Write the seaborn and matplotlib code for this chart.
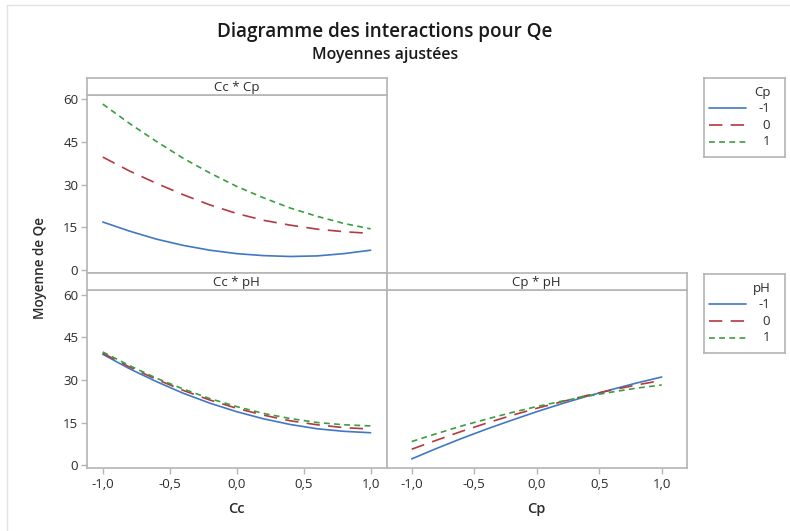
import matplotlib
matplotlib.use("Agg")
import matplotlib.pyplot as plt
from matplotlib.lines import Line2D
import numpy as np
import pandas as pd
import seaborn as sns

# ---- data: adjusted means of Qe at coded factor settings ----
levels = ["-1", "0", "1"]
x_grid = [-1.0, -0.8, -0.6, -0.4, -0.2, 0.0, 0.2, 0.4, 0.6, 0.8, 1.0]

# Cc * Cp (x = Cc, one curve per Cp level)
cc_cp_m1 = [16.9, 13.7, 10.9, 8.7, 7.0, 5.8, 5.1, 4.8, 5.0, 5.8, 7.0]
cc_cp_0 = [39.7, 34.8, 30.5, 26.5, 22.9, 19.9, 17.5, 15.8, 14.4, 13.5, 12.9]
cc_cp_p1 = [58.3, 51.5, 45.2, 39.3, 34.1, 29.4, 25.4, 21.8, 18.9, 16.4, 14.5]

# Cc * pH (x = Cc, one curve per pH level)
cc_ph_m1 = [39.0, 33.9, 29.4, 25.3, 21.8, 18.8, 16.3, 14.3, 12.8, 11.9, 11.4]
cc_ph_0 = [39.4, 34.5, 30.2, 26.3, 22.9, 20.0, 17.6, 15.6, 14.2, 13.2, 12.7]
cc_ph_p1 = [39.8, 35.0, 30.6, 26.8, 23.4, 20.6, 18.2, 16.4, 15.0, 14.2, 13.8]

# Cp * pH (x = Cp, one curve per pH level)
cp_ph_m1 = [2.2, 5.9, 9.4, 12.7, 15.8, 18.8, 21.6, 24.2, 26.6, 28.9, 31.0]
cp_ph_0 = [5.6, 8.8, 11.9, 14.8, 17.5, 20.0, 22.3, 24.5, 26.4, 28.2, 29.8]
cp_ph_p1 = [8.3, 11.1, 13.8, 16.2, 18.5, 20.6, 22.5, 24.2, 25.7, 27.1, 28.2]

y_ticks = [0, 15, 30, 45, 60]
x_ticks = [-1.0, -0.5, 0.0, 0.5, 1.0]
x_tick_labels = ["-1,0", "-0,5", "0,0", "0,5", "1,0"]

title = "Diagramme des interactions pour Qe"
subtitle = "Moyennes ajustées"
y_label = "Moyenne de Qe"


def long_frame(curves):
    return pd.DataFrame({
        "x": x_grid * len(curves),
        "Qe": [v for c in curves for v in c],
        "level": [lv for lv in levels for _ in x_grid],
    })


df_cc_cp = long_frame([cc_cp_m1, cc_cp_0, cc_cp_p1])
df_cc_ph = long_frame([cc_ph_m1, cc_ph_0, cc_ph_p1])
df_cp_ph = long_frame([cp_ph_m1, cp_ph_0, cp_ph_p1])

# ---- styling ----
sns.set_theme(style="white")
plt.rcParams["font.family"] = ["Open Sans", "DejaVu Sans"]

palette = {"-1": "#3F78C4", "0": "#B23A40", "1": "#3A9E3F"}
dashes = {"-1": "", "0": (8, 5), "1": (3.5, 2.6)}
LW = 1.2
FRAME = "#B4B4B4"
TXT = "#2B2B2B"

W, H = 790, 531
fig = plt.figure(figsize=(W / 100, H / 100), dpi=100)
fig.patch.set_facecolor("white")


def px_axes(x0, y0, x1, y1):
    return fig.add_axes([x0 / W, 1 - y1 / H, (x1 - x0) / W, (y1 - y0) / H])


def style_frame(ax):
    for s in ax.spines.values():
        s.set_color(FRAME)
        s.set_linewidth(1.2)
    ax.set_facecolor("white")


def strip(x0, y0, x1, y1, text):
    sax = px_axes(x0, y0, x1, y1)
    style_frame(sax)
    sax.set_xticks([])
    sax.set_yticks([])
    sax.text(0.5, 0.45, text, ha="center", va="center", fontsize=9.5,
             color=TXT, transform=sax.transAxes)
    return sax


def panel(box, data, xlim, show_x, show_y):
    ax = px_axes(*box)
    style_frame(ax)
    sns.lineplot(data=data, x="x", y="Qe", hue="level", style="level",
                 palette=palette, dashes=dashes, hue_order=levels,
                 style_order=levels, linewidth=LW, estimator=None,
                 legend=False, ax=ax)
    ax.set_xlim(*xlim)
    ax.set_ylim(-1.0, 61.6)
    ax.set_xlabel("")
    ax.set_ylabel("")
    if show_y:
        ax.set_yticks(y_ticks)
        ax.set_yticklabels([str(t) for t in y_ticks])
        ax.tick_params(axis="y", left=True, length=4, width=1, color=FRAME,
                       labelsize=9.5, labelcolor=TXT, pad=2)
    else:
        ax.set_yticks([])
    if show_x:
        ax.set_xticks(x_ticks)
        ax.set_xticklabels(x_tick_labels)
        ax.tick_params(axis="x", bottom=True, length=4, width=1, color=FRAME,
                       labelsize=9.5, labelcolor=TXT, pad=3)
    else:
        ax.set_xticks([])
    return ax


L, M, R = 86.7, 386.7, 686.7

ax_tl = panel((L, 94.7, M, 273.0), df_cc_cp, (-1.12, 1.12), False, True)
strip(L, 78.0, M, 94.7, "Cc * Cp")

ax_bl = panel((L, 290.0, M, 468.0), df_cc_ph, (-1.12, 1.12), True, True)
strip(L, 273.0, M, 290.0, "Cc * pH")

ax_br = panel((M, 290.0, R, 468.0), df_cp_ph, (-1.2, 1.2), True, False)
strip(M, 273.0, R, 290.0, "Cp * pH")

ax_bl.set_xlabel("Cc", fontsize=10.5, fontweight="semibold", color=TXT, labelpad=8)
ax_br.set_xlabel("Cp", fontsize=10.5, fontweight="semibold", color=TXT, labelpad=8)


def legend_box(x0, y0, x1, y1, name):
    lax = px_axes(x0, y0, x1, y1)
    style_frame(lax)
    w, h = x1 - x0, y1 - y0
    lax.set_xlim(0, w)
    lax.set_ylim(h, 0)
    lax.set_xticks([])
    lax.set_yticks([])
    lax.text(w - 14.5, 14.5, name, ha="right", va="center", fontsize=9.5, color=TXT)
    for i, lv in enumerate(levels):
        yy = 30.0 + 16.8 * i
        ls = "-" if dashes[lv] == "" else (0, dashes[lv])
        lax.add_line(Line2D([4.5, 42.0], [yy, yy], color=palette[lv],
                            linewidth=LW, linestyle=ls))
        lax.text(w - 15.0, yy, lv, ha="right", va="center", fontsize=9.5, color=TXT)
    return lax


legend_box(704.3, 78.3, 785.0, 156.7, "Cp")
legend_box(704.3, 274.3, 785.0, 352.7, "pH")

fig.text(385 / W, 1 - 32 / H, title, ha="center", va="center",
         fontsize=13.6, fontweight="semibold", color="#1A1A1A")
fig.text(385 / W, 1 - 55 / H, subtitle, ha="center", va="center",
         fontsize=11.4, fontweight="semibold", color="#1A1A1A")
fig.text(40 / W, 1 - 268 / H, y_label, ha="center", va="center", rotation=90,
         fontsize=9.8, fontweight="semibold", color=TXT)

# thin outer rule along the top and left edges
fig.add_artist(Line2D([7 / W, 1], [1 - 5 / H, 1 - 5 / H], transform=fig.transFigure,
                      color="#E2E2E2", linewidth=1))
fig.add_artist(Line2D([7 / W, 7 / W], [0, 1 - 5 / H], transform=fig.transFigure,
                      color="#E2E2E2", linewidth=1))

fig.savefig("out.png", dpi=100, facecolor="white")
